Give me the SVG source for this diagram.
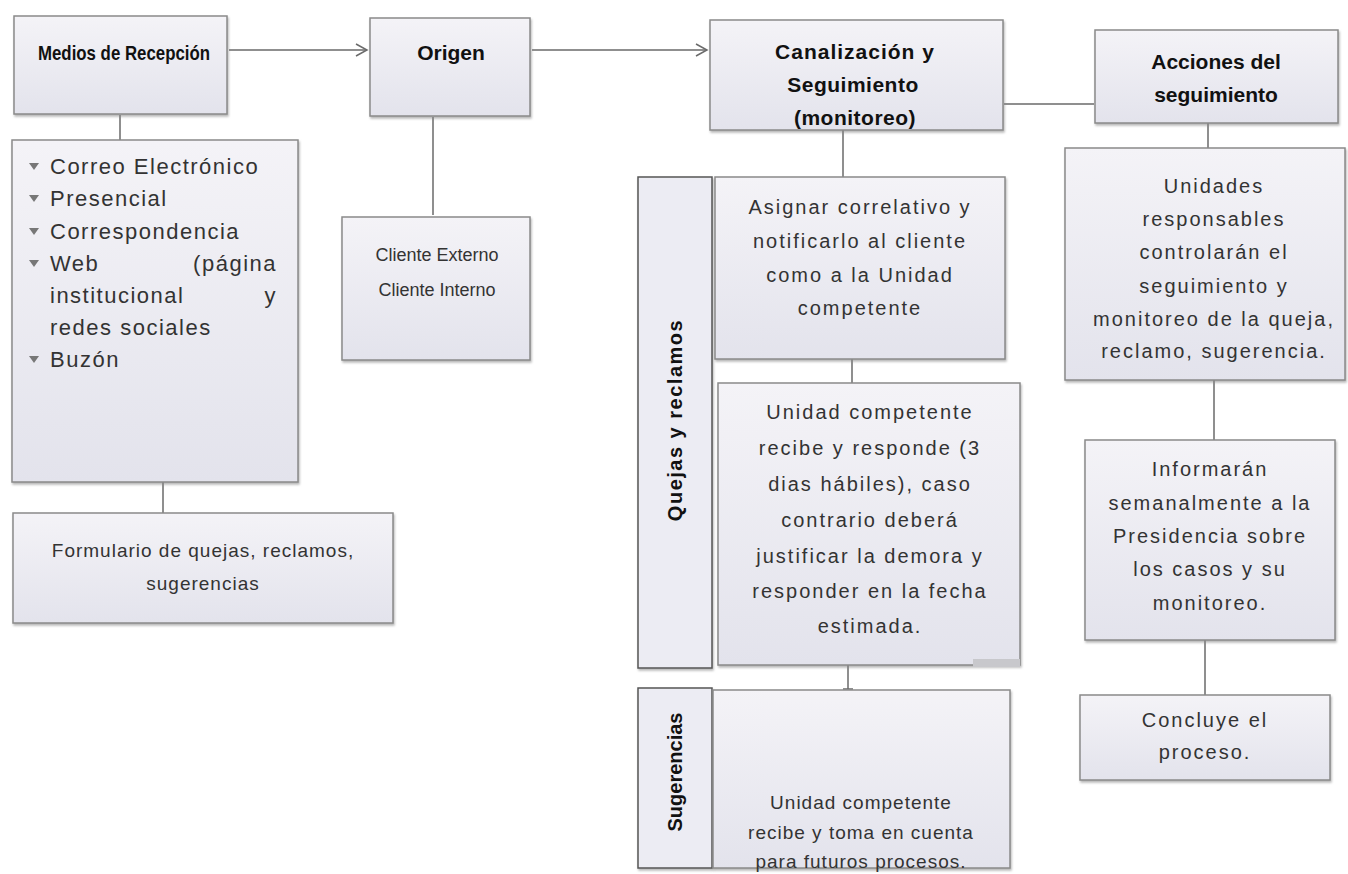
<svg xmlns="http://www.w3.org/2000/svg" width="1348" height="874" viewBox="0 0 1348 874">
<style>
.box{fill:url(#g);stroke:#8a8a8a;stroke-width:1.5;filter:url(#sh)}
.bar{fill:#ececf3;stroke:#555;stroke-width:1.5;filter:url(#sh)}
.hd{font-family:"Liberation Sans",Arial,sans-serif;font-weight:bold;font-size:21px;fill:#111;text-anchor:middle}
.vt{font-family:"Liberation Sans",Arial,sans-serif;font-weight:bold;font-size:20px;fill:#111;text-anchor:middle}
.tx{font-family:"Liberation Sans",Arial,sans-serif;font-size:20px;fill:#333;text-anchor:middle;letter-spacing:2px}
.ts{font-family:"Liberation Sans",Arial,sans-serif;font-size:19px;fill:#333;text-anchor:middle;letter-spacing:1px}
.tc{font-family:"Liberation Sans",Arial,sans-serif;font-size:18px;fill:#333;text-anchor:middle}
.tl{font-family:"Liberation Sans",Arial,sans-serif;font-size:22px;fill:#333;letter-spacing:1.5px}
.ln{stroke:#6a6a6a;stroke-width:1.5;fill:none}
.bul{fill:#777}
</style>
<defs>
<linearGradient id="g" x1="0" y1="0" x2="0" y2="1">
<stop offset="0" stop-color="#f4f3f7"/>
<stop offset="1" stop-color="#e3e3ec"/>
</linearGradient>
<filter id="sh" x="-5%" y="-5%" width="110%" height="115%">
<feDropShadow dx="1" dy="2" stdDeviation="1.2" flood-color="#888" flood-opacity="0.6"/>
</filter>
<marker id="ar" markerWidth="14" markerHeight="14" refX="12" refY="7" orient="auto" markerUnits="userSpaceOnUse">
<path d="M1,1 L12,7 L1,13" fill="none" stroke="#6a6a6a" stroke-width="1.5"/>
</marker>
</defs>

<g id="connectors">
<line class="ln" x1="229" y1="50" x2="367" y2="50" marker-end="url(#ar)"/>
<line class="ln" x1="532" y1="50" x2="707" y2="50" marker-end="url(#ar)"/>
<line class="ln" x1="1004" y1="104" x2="1094" y2="104"/>
<line class="ln" x1="120" y1="115" x2="120" y2="140"/>
<line class="ln" x1="163" y1="482" x2="163" y2="513"/>
<line class="ln" x1="433" y1="117" x2="433" y2="215"/>
<line class="ln" x1="843" y1="130" x2="843" y2="177"/>
<line class="ln" x1="852" y1="359" x2="852" y2="383"/>
<line class="ln" x1="848" y1="665" x2="848" y2="689"/>
<line class="ln" x1="843" y1="689" x2="853" y2="689"/>
<line class="ln" x1="1208" y1="123" x2="1208" y2="148"/>
<line class="ln" x1="1214" y1="380" x2="1214" y2="440"/>
<line class="ln" x1="1205" y1="640" x2="1205" y2="695"/>
</g>

<g id="medios">
<rect class="box" x="14" y="16" width="213" height="98"/>
<text class="hd" x="124" y="60" font-size="23" textLength="172" lengthAdjust="spacingAndGlyphs">Medios de Recepción</text>
</g>

<g id="origen">
<rect class="box" x="370" y="18" width="160" height="98"/>
<text class="hd" x="451" y="60" font-size="22">Origen</text>
</g>

<g id="canalizacion">
<rect class="box" x="710" y="20" width="293" height="110"/>
<text class="hd" x="855" y="59" letter-spacing="1">Canalización y</text>
<text class="hd" x="853" y="92" letter-spacing="0.5">Seguimiento</text>
<text class="hd" x="855" y="125" letter-spacing="0.5">(monitoreo)</text>
</g>

<g id="acciones">
<rect class="box" x="1095" y="30" width="243" height="93"/>
<text class="hd" x="1216" y="69">Acciones del</text>
<text class="hd" x="1216" y="102">seguimiento</text>
</g>

<g id="lista">
<rect class="box" x="12" y="140" width="286" height="342"/>
<path class="bul" d="M29,163 L39,163 L34,170 Z"/>
<text class="tl" x="50" y="174">Correo Electrónico</text>
<path class="bul" d="M29,195 L39,195 L34,202 Z"/>
<text class="tl" x="50" y="206">Presencial</text>
<path class="bul" d="M29,228 L39,228 L34,235 Z"/>
<text class="tl" x="50" y="239">Correspondencia</text>
<path class="bul" d="M29,260 L39,260 L34,267 Z"/>
<text class="tl" x="50" y="271">Web</text>
<text class="tl" x="277" y="271" text-anchor="end" letter-spacing="0">(página</text>
<text class="tl" x="50" y="303">institucional</text>
<text class="tl" x="277" y="303" text-anchor="end" letter-spacing="0">y</text>
<text class="tl" x="50" y="335">redes sociales</text>
<path class="bul" d="M29,356 L39,356 L34,363 Z"/>
<text class="tl" x="50" y="367">Buzón</text>
</g>

<g id="formulario">
<rect class="box" x="13" y="513" width="380" height="110"/>
<text class="ts" x="203" y="557">Formulario de quejas, reclamos,</text>
<text class="ts" x="203" y="590">sugerencias</text>
</g>

<g id="cliente">
<rect class="box" x="342" y="217" width="188" height="143"/>
<text class="tc" x="437" y="261">Cliente Externo</text>
<text class="tc" x="437" y="296">Cliente Interno</text>
</g>

<g id="quejas-label">
<rect class="bar" x="638" y="177" width="74" height="491"/>
<text class="vt" transform="translate(682,420) rotate(-90)" letter-spacing="1.5">Quejas y reclamos</text>
</g>

<g id="asignar">
<rect class="box" x="715" y="177" width="290" height="182"/>
<text class="tx" x="860" y="214">Asignar correlativo y</text>
<text class="tx" x="860" y="248">notificarlo al cliente</text>
<text class="tx" x="860" y="282">como a la Unidad</text>
<text class="tx" x="860" y="315">competente</text>
</g>

<g id="unidad-competente">
<rect class="box" x="718" y="383" width="302" height="282"/>
<rect x="973" y="659" width="47" height="8" fill="#c8c8cc"/>
<text class="tx" x="870" y="419">Unidad competente</text>
<text class="tx" x="870" y="455">recibe y responde (3</text>
<text class="tx" x="870" y="491">dias hábiles), caso</text>
<text class="tx" x="870" y="527">contrario deberá</text>
<text class="tx" x="870" y="563">justificar la demora y</text>
<text class="tx" x="870" y="598">responder en la fecha</text>
<text class="tx" x="870" y="633">estimada.</text>
</g>

<g id="sugerencias-label">
<rect class="bar" x="638" y="688" width="74" height="180"/>
<text class="vt" transform="translate(682,772) rotate(-90)">Sugerencias</text>
</g>

<g id="sugerencias">
<rect class="box" x="713" y="690" width="297" height="178"/>
<text class="ts" x="861" y="809">Unidad competente</text>
<text class="ts" x="861" y="839">recibe y toma en cuenta</text>
<text class="ts" x="861" y="868">para futuros procesos.</text>
</g>

<g id="unidades">
<rect class="box" x="1065" y="148" width="280" height="232"/>
<text class="tx" x="1214" y="193">Unidades</text>
<text class="tx" x="1214" y="226">responsables</text>
<text class="tx" x="1214" y="259">controlarán el</text>
<text class="tx" x="1214" y="293">seguimiento y</text>
<text class="tx" x="1214" y="326">monitoreo de la queja,</text>
<text class="tx" x="1214" y="358">reclamo, sugerencia.</text>
</g>

<g id="informaran">
<rect class="box" x="1085" y="440" width="250" height="200"/>
<text class="tx" x="1210" y="476">Informarán</text>
<text class="tx" x="1210" y="510">semanalmente a la</text>
<text class="tx" x="1210" y="543">Presidencia sobre</text>
<text class="tx" x="1210" y="576">los casos y su</text>
<text class="tx" x="1210" y="610">monitoreo.</text>
</g>

<g id="concluye">
<rect class="box" x="1080" y="695" width="250" height="85"/>
<text class="tx" x="1205" y="727" letter-spacing="1.3">Concluye el</text>
<text class="tx" x="1205" y="759" letter-spacing="1.3">proceso.</text>
</g>
</svg>
